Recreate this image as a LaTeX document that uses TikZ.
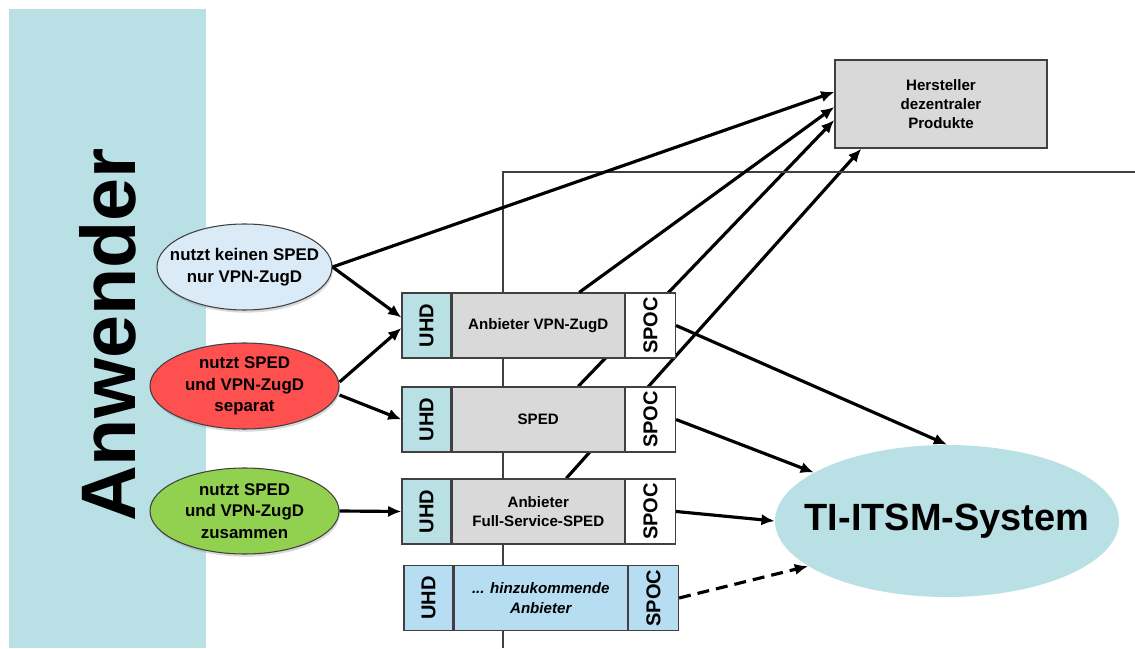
\documentclass[tikz,border=0pt]{standalone}
\usepackage{fontspec}
\setmainfont{Liberation Sans}
\usetikzlibrary{shapes.geometric,positioning,arrows.meta,backgrounds,shadows}
\definecolor{tealbg}{RGB}{185,224,228}
\definecolor{midgray}{RGB}{217,217,217}
\definecolor{newblue}{RGB}{182,221,241}
\definecolor{userblue}{RGB}{218,234,247}
\definecolor{userred}{RGB}{255,80,80}
\definecolor{usergreen}{RGB}{146,208,80}
\definecolor{edge}{RGB}{64,64,64}
\newcommand\colx{8.53}

\begin{document}
\begin{tikzpicture}[user/.style={ellipse, draw=edge, line width=0.6pt, minimum width=3.78cm, minimum height=1.72cm, inner sep=0pt, drop shadow={opacity=0.3, shadow xshift=0.6pt, shadow yshift=-1.5pt}},
    utext/.style={align=center, font=\fontsize{9.6}{12.3}\selectfont\bfseries},
    uhd/.style={draw=edge, line width=0.7pt, fill=tealbg, minimum width=0.98cm, minimum height=1.3cm, inner sep=0pt, font=\fontsize{11.4}{12}\selectfont\bfseries},
    mid/.style={draw=edge, line width=0.7pt, fill=midgray, minimum width=3.44cm, minimum height=1.3cm, inner sep=0pt, align=center, font=\fontsize{8.6}{11}\selectfont\bfseries},
    spoc/.style={draw=edge, line width=0.7pt, fill=white, minimum width=1cm, minimum height=1.3cm, inner sep=0pt, font=\fontsize{11.4}{12}\selectfont\bfseries},
    arr/.style={-{Latex[length=7.5pt,width=6.5pt]}, line width=1.8pt}]
    \useasboundingbox (0,0) rectangle (22.7,12.96);

    %Anwender
    \fill[tealbg] (0.18,0) rectangle (4.12,12.78);
    \node at (2.16,6.26) [rotate=90, font=\fontsize{44}{44}\selectfont\bfseries] (anw) {Anwender};

    \draw[edge, line width=0.6pt] (10.06,0) -- (10.06,9.52) -- (22.7,9.52);

    \node at (4.89,7.62) [user, fill=userblue, minimum width=3.5cm] (e1) {};
    \node at (e1) [utext] (e1t) {nutzt keinen SPED\\nur VPN-ZugD};
    \node at (4.89,5.24) [user, fill=userred] (e2) {};
    \node at (e2) [utext] (e2t) {nutzt SPED\\und VPN-ZugD\\separat};
    \node at (4.89,2.74) [user, fill=usergreen] (e3) {};
    \node at (e3) [utext] (e3t) {nutzt SPED\\und VPN-ZugD\\zusammen};

    %Anbieter
    \node at (\colx,6.45) [uhd] (uhdA) {\rotatebox{90}{UHD}};
    \node [mid, right=0pt of uhdA] (vpn) {Anbieter VPN-ZugD};
    \node [spoc, right=0pt of vpn] (spocA) {\rotatebox{90}{SPOC}};

    \node at (\colx,4.57) [uhd] (uhdB) {\rotatebox{90}{UHD}};
    \node [mid, right=0pt of uhdB] (sped) {SPED};
    \node [spoc, right=0pt of sped] (spocB) {\rotatebox{90}{SPOC}};

    \node at (\colx,2.73) [uhd] (uhdC) {\rotatebox{90}{UHD}};
    \node [mid, right=0pt of uhdC] (full) {Anbieter\\Full-Service-SPED};
    \node [spoc, right=0pt of full] (spocC) {\rotatebox{90}{SPOC}};

    \node at (\colx+0.04,1.0) [uhd, fill=newblue] (uhdD) {\rotatebox{90}{UHD}};
    \node [mid, fill=newblue, minimum width=3.46cm, right=0pt of uhdD] (neu) {\itshape ... hinzukommende\\\itshape Anbieter};
    \node [spoc, fill=newblue, right=0pt of neu] (spocD) {\rotatebox{90}{SPOC}};

    \node at (18.82,10.88) [draw=edge, line width=0.8pt, fill=midgray, minimum width=4.24cm, minimum height=1.76cm, align=center, font=\fontsize{8.6}{10.6}\selectfont\bfseries] (hst) {Hersteller\\dezentraler\\Produkte};

    \node at (18.94,2.54) [ellipse, fill=tealbg, minimum width=6.88cm, minimum height=3.04cm] (itsm) {};
    \node at (itsm) [font=\fontsize{21.6}{24}\selectfont\bfseries] (itsmt) {TI-ITSM-System};

    %Anwender zu Anbieter
    \draw[arr] (e1.east) -- ([yshift=0.24cm]hst.west);
    \draw[arr] (e1.east) -- ([yshift=0.16cm]uhdA.west);
    \draw[arr] ([yshift=0.08cm]e2.east) -- ([yshift=-0.05cm]uhdA.west);
    \draw[arr] ([yshift=-0.18cm]e2.east) -- (uhdB.west);
    \draw[arr] (e3.east) -- (uhdC.west);

    %Hersteller
    \draw[arr] ([xshift=0.82cm]vpn.north) -- ([yshift=-0.06cm]hst.west);
    \begin{pgfonlayer}{background}
        \draw[arr] ([xshift=0.8cm]sped.north) -- ([yshift=-0.32cm]hst.west);
        \draw[arr] ([xshift=0.56cm]full.north) -- ([xshift=0.54cm]hst.south west);
    \end{pgfonlayer}

    %TI-ITSM
    \draw[arr] (spocA.east) -- (itsm.north);
    \draw[arr] (spocB.east) -- (itsm.160);
    \draw[arr] (spocC.east) -- (itsm.west);
    \draw[arr, dash pattern=on 6.8pt off 4pt] (spocD.east) -- (itsm.198);

\end{tikzpicture}
\end{document}
